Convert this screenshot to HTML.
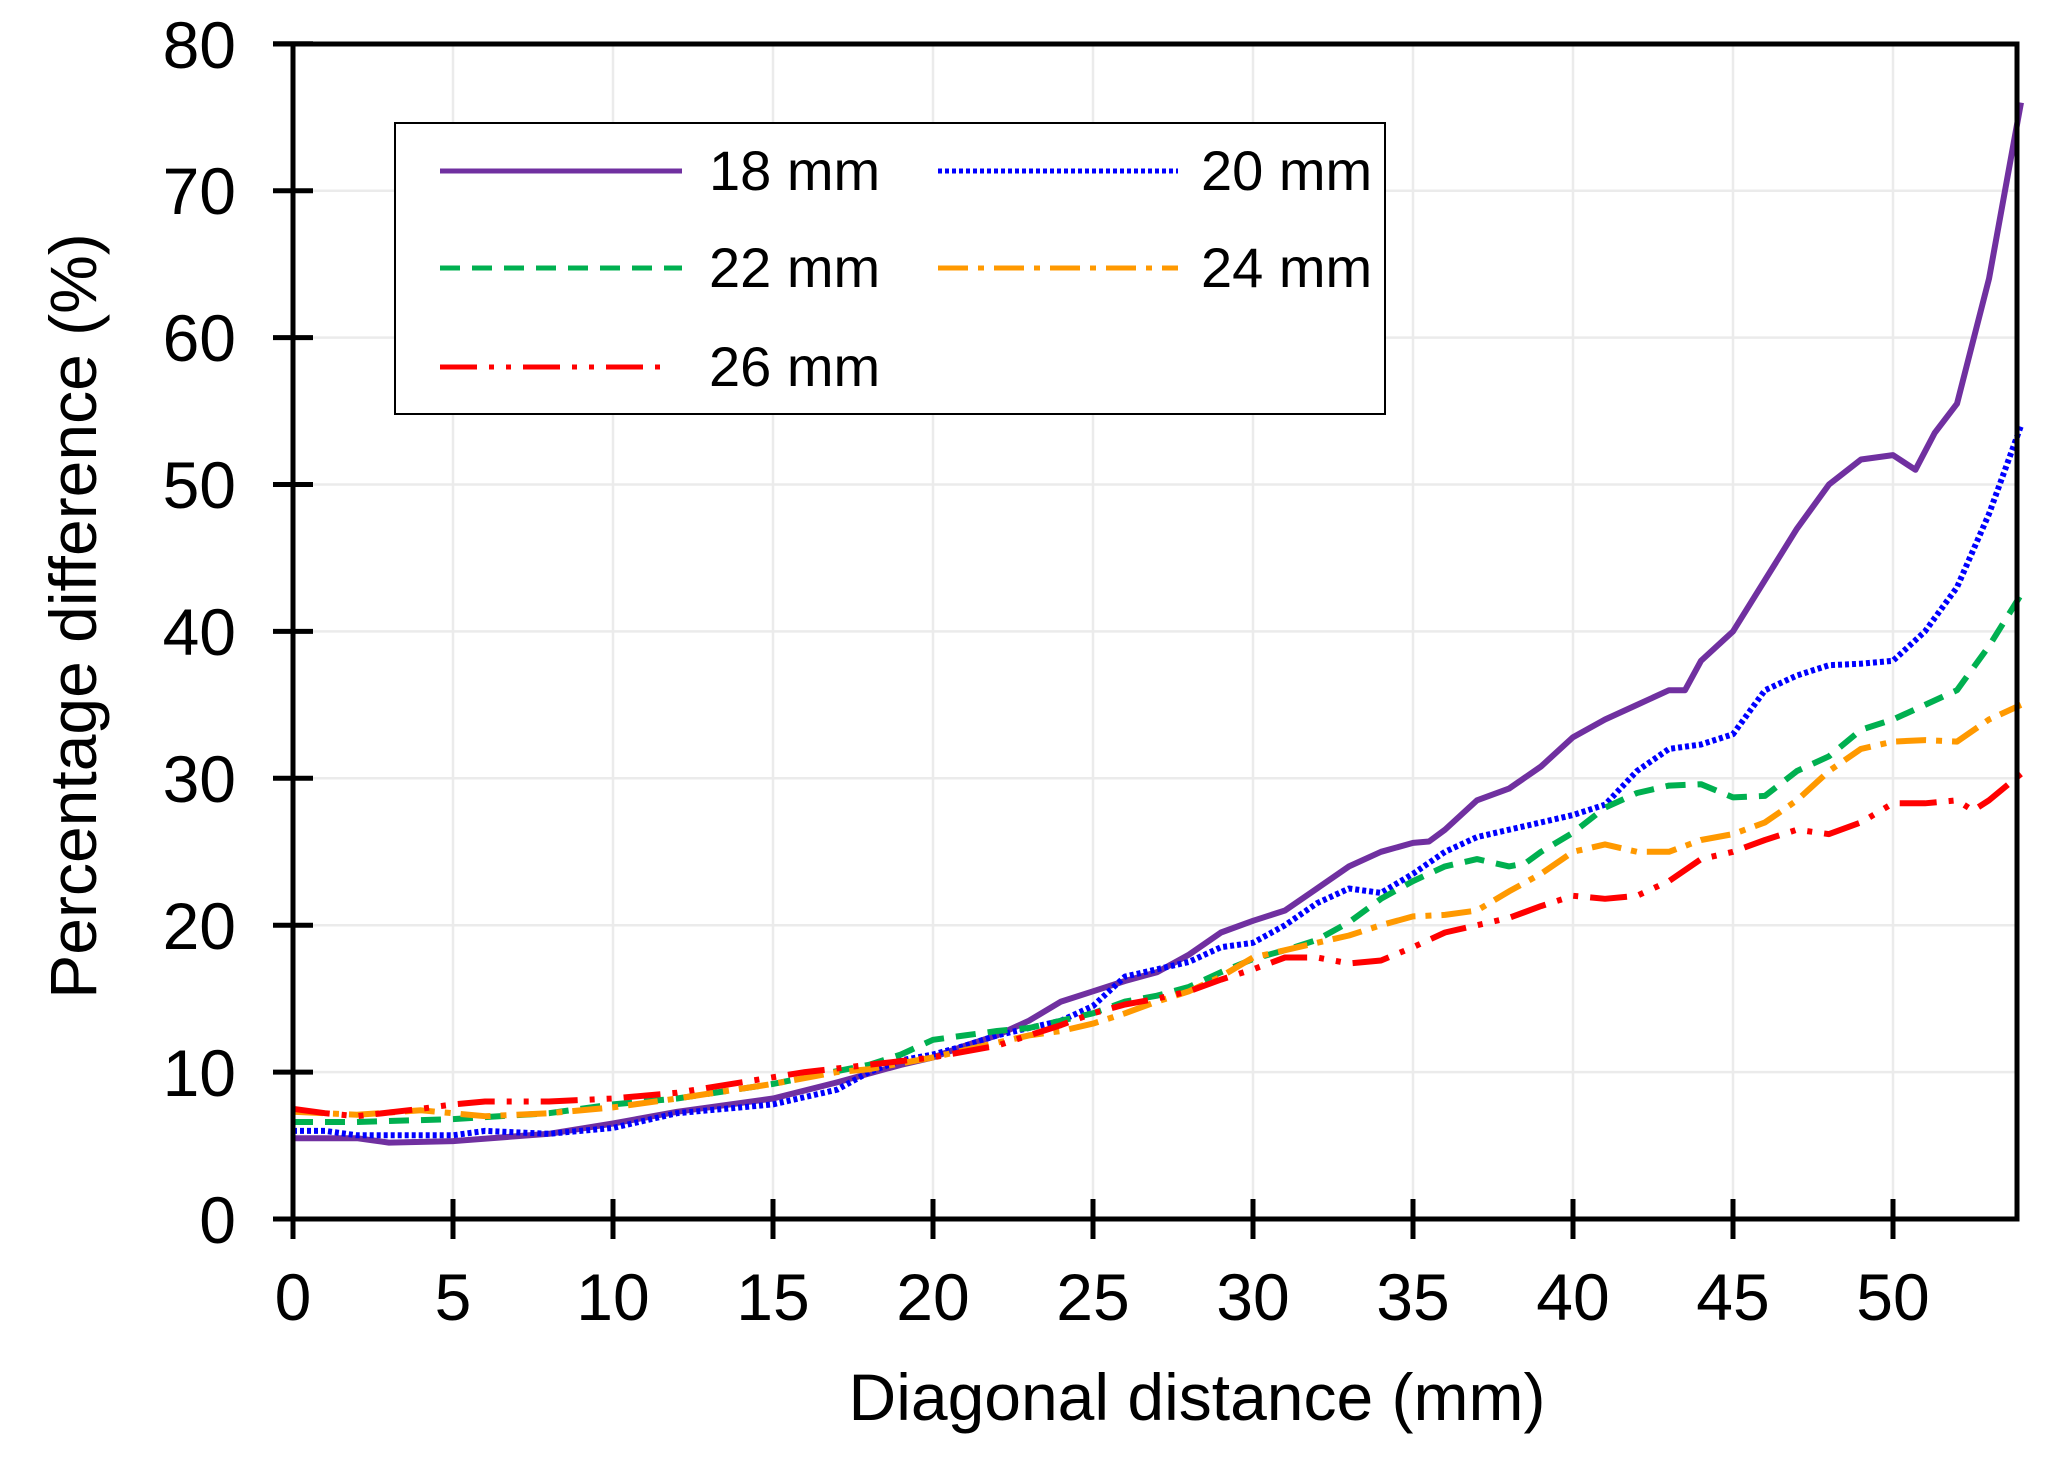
<!DOCTYPE html>
<html><head><meta charset="utf-8"><style>
html,body{margin:0;padding:0;background:#fff}
svg{display:block}
text{font-family:"Liberation Sans",Arial,sans-serif;fill:#000}
</style></head><body>
<svg id="s" width="2046" height="1469" viewBox="0 0 2046 1469" xmlns="http://www.w3.org/2000/svg">
<g id="grid" stroke="#ebebeb" stroke-width="2.5"></g>
<rect x="395" y="123" width="990" height="291" fill="#fff" stroke="#000" stroke-width="2"/>
<g id="series" fill="none" stroke-width="6" stroke-linejoin="round"></g>
<g stroke="#000" stroke-width="5" fill="none">
<polyline points="293,44 293,1219 2017,1219 2017,44 273,44"/>
</g>
<g id="ticks" stroke="#000" stroke-width="5"></g>
<g font-size="66" text-anchor="end">
<text x="236" y="1243">0</text><text x="236" y="1096">10</text><text x="236" y="949">20</text>
<text x="236" y="802">30</text><text x="236" y="655">40</text><text x="236" y="508">50</text>
<text x="236" y="361">60</text><text x="236" y="214">70</text><text x="236" y="68">80</text>
</g>
<g font-size="66" text-anchor="middle">
<text x="293" y="1320">0</text><text x="453" y="1320">5</text><text x="613" y="1320">10</text>
<text x="773" y="1320">15</text><text x="933" y="1320">20</text><text x="1093" y="1320">25</text>
<text x="1253" y="1320">30</text><text x="1413" y="1320">35</text><text x="1573" y="1320">40</text>
<text x="1733" y="1320">45</text><text x="1893" y="1320">50</text>
</g>
<text x="1197" y="1420" font-size="66" text-anchor="middle">Diagonal distance (mm)</text>
<text transform="translate(96,616) rotate(-90)" font-size="66" text-anchor="middle">Percentage difference (%)</text>
<g stroke-width="5">
<line x1="440" y1="171" x2="682" y2="171" stroke="#7030a0"/>
<line x1="938" y1="171" x2="1178" y2="171" stroke="#0000ff" stroke-dasharray="4,3"/>
<line x1="440" y1="268" x2="682" y2="268" stroke="#00b050" stroke-dasharray="20,12"/>
<line x1="938" y1="268" x2="1178" y2="268" stroke="#ff9900" stroke-dasharray="30,10,6,10"/>
<line x1="440" y1="367" x2="672" y2="367" stroke="#ff0000" stroke-dasharray="37,12,5,12,5,12"/>
</g>
<g font-size="56">
<text x="709" y="190">18 mm</text><text x="1201" y="190">20 mm</text>
<text x="709" y="287">22 mm</text><text x="1201" y="287">24 mm</text>
<text x="709" y="386">26 mm</text>
</g>
</svg>
<script>
var NS="http://www.w3.org/2000/svg";
function X(v){return 293+32*v}function Y(v){return 1219-14.69*v}
var g=document.getElementById('grid'),t=document.getElementById('ticks');
function ln(p,a,b,c,d){var e=document.createElementNS(NS,'line');e.setAttribute('x1',a);e.setAttribute('y1',b);e.setAttribute('x2',c);e.setAttribute('y2',d);p.appendChild(e);}
for(var i=5;i<=50;i+=5){ln(g,X(i),44,X(i),1219);}
for(var j=10;j<=70;j+=10){ln(g,293,Y(j),2017,Y(j));}
for(var i=0;i<=50;i+=5){ln(t,X(i),1199,X(i),1239);}
for(var j=0;j<=80;j+=10){ln(t,273,Y(j),313,Y(j));}
var D=[
["#7030a0","",[0,5.5,2,5.5,3,5.2,5,5.3,8,5.8,10,6.5,12,7.3,15,8.2,17,9.3,19,10.5,20,11,21,11.8,22,12.5,23,13.5,24,14.8,25,15.5,26,16.2,27,16.8,28,18,29,19.5,30,20.3,31,21,32,22.5,33,24,34,25,35,25.6,35.5,25.7,36,26.5,37,28.5,38,29.3,39,30.8,40,32.8,41,34,42,35,43,36,43.5,36,44,38,45,40,46,43.5,47,47,48,50,49,51.7,50,52,50.7,51,51.3,53.5,52,55.5,53,64,54,76]],
["#0000ff","4,3",[0,6,1,6,2,5.7,5,5.7,6,6,8,5.8,10,6.2,12,7.2,15,7.8,17,8.8,18,10,19,10.8,20,11.2,21,11.8,22,12.5,23,13,24,13.5,25,14.5,26,16.5,27,17,28,17.5,29,18.5,30,18.8,31,20,32,21.5,33,22.5,34,22.2,35,23.5,36,25,37,26,38,26.5,39,27,40,27.5,41,28.2,42,30.5,43,32,44,32.3,45,33,46,36,47,37,48,37.7,49,37.8,50,38,51,40,52,43,53,48,54,54]],
["#00b050","20,12",[0,6.6,2,6.6,5,6.8,8,7.2,10,7.8,12,8.2,15,9.2,18,10.5,19,11.2,20,12.2,21,12.5,22,12.8,23,13,24,13.5,25,14,26,14.8,27,15.2,28,15.8,29,16.8,30,17.7,31,18.3,32,19,33,20.2,34,21.8,35,23,36,24,37,24.5,38,24,38.5,24.2,39,25,40,26.3,41,28,42,29,43,29.5,44,29.6,45,28.7,46,28.8,47,30.5,48,31.5,49,33.3,50,34,51,35,52,36,53,39,54,42.5]],
["#ff9900","30,10,6,10",[0,7.3,2,7.1,4,7.4,6,7,8,7.2,10,7.6,12,8.2,15,9.2,17,10,18,10.2,20,11,22,12,23,12.5,24,12.8,25,13.3,26,14,27,14.8,28,15.5,29,16.5,30,17.8,31,18.3,32,18.8,33,19.3,34,20,35,20.6,36,20.7,37,21,38,22.3,39,23.5,40,25,41,25.5,42,25,43,25,44,25.8,45,26.2,46,27,47,28.5,48,30.5,49,32,50,32.5,51,32.6,52,32.5,53,34,54,35]],
["#ff0000","37,12,5,12,5,12",[0,7.5,1,7.2,2,7,4,7.5,5,7.8,6,8,8,8,10,8.2,12,8.6,14,9.3,16,10,18,10.5,20,11,22,11.8,23,12.5,24,13.2,25,14,26,14.6,27,15,28,15.5,29,16.3,30,17,31,17.8,32,17.8,33,17.4,34,17.6,35,18.5,36,19.5,37,20,38,20.5,39,21.3,40,22,41,21.8,42,22,43,23,44,24.5,45,25,46,25.8,47,26.5,48,26.2,49,27,50,28.3,51,28.3,52,28.5,52.5,27.8,53,28.5,54,30.3]]
];
var S=document.getElementById('series');
D.forEach(function(d){var a=d[2],p=[];for(var k=0;k<a.length;k+=2)p.push(X(a[k]).toFixed(1)+","+Y(a[k+1]).toFixed(1));
var e=document.createElementNS(NS,'polyline');e.setAttribute('points',p.join(' '));e.setAttribute('stroke',d[0]);if(d[1])e.setAttribute('stroke-dasharray',d[1]);S.appendChild(e);});
</script>
</body></html>
